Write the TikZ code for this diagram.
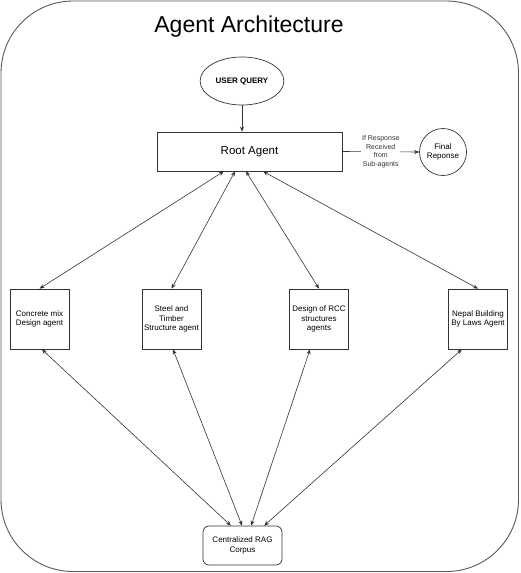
\documentclass[tikz,border=0pt]{standalone}
\usepackage{fontspec}
\setmainfont{Liberation Sans}
\usetikzlibrary{calc,arrows.meta,shapes.geometric}

\begin{document}
\begin{tikzpicture}
[x=1pt,y=-1pt,
frameline/.style={draw=black!65,line width=0.9pt,rounded corners=72pt},
agentbox/.style={draw=black!80,line width=0.7pt,minimum width=59pt,minimum height=60pt,inner sep=1pt,align=center,font=\fontsize{8}{9.7}\selectfont},
twoarrow/.style={{Stealth[length=5pt,width=4pt]}-{Stealth[length=5pt,width=4pt]},black!80,line width=0.6pt},
onearrow/.style={-{Stealth[length=5pt,width=4pt]},black!80,line width=0.6pt}]

\useasboundingbox (0,0) rectangle (520,573);

% outer frame
\draw[frameline] (1,1) rectangle (518.5,571.5);

% title
\node[anchor=base](title) at (249,32){\fontsize{23}{27}\selectfont Agent Architecture};

% user query
\node[ellipse,draw=black!80,line width=0.7pt,minimum width=78pt,minimum height=48pt,font=\bfseries\fontsize{8}{10}\selectfont](query) at (242,81){USER QUERY};

% root agent
\node[draw=black!80,line width=0.7pt,minimum width=185pt,minimum height=39pt,font=\fontsize{11.5}{14}\selectfont](root) at (249.5,151.5){Root Agent};
\draw[onearrow] (query.south) -- (root.north -| query.south);

% final response
\node[circle,draw=black!80,line width=0.7pt,minimum size=47pt,inner sep=0pt,align=center,font=\fontsize{8}{9}\selectfont](final) at (443,152){Final\\Reponse};
\draw[onearrow] (root.east) -- node[fill=white,inner sep=1pt,align=center,font=\fontsize{7}{8.7}\selectfont](cond){If Response\\Received\\from\\Sub-agents} (final.west);

% sub-agents
\node[agentbox](concrete) at (39.5,319){Concrete mix\\Design agent};
\node[agentbox](steel) at (171.5,319){Steel and\\Timber\\Structure agent};
\node[agentbox](rcc) at (319,319){Design of RCC\\structures\\agents};
\node[agentbox](nepal) at (478,319){Nepal Building\\By Laws Agent};

% root <-> sub-agents
\draw[twoarrow] (concrete.north) -- ($(root.south west)!0.362!(root.south east)$);
\draw[twoarrow] (steel.north) -- ($(root.south west)!0.422!(root.south east)$);
\draw[twoarrow] (rcc.north) -- ($(root.south west)!0.481!(root.south east)$);
\draw[twoarrow] (nepal.north) -- ($(root.south west)!0.573!(root.south east)$);

% rag corpus
\node[draw=black!80,line width=0.7pt,rounded corners=6pt,minimum width=79pt,minimum height=39pt,align=center,font=\fontsize{8}{10}\selectfont](rag) at (242.5,545.5){Centralized RAG\\Corpus};

% sub-agents <-> rag
\draw[twoarrow] ($(concrete.south west)!0.54!(concrete.south east)$) -- ($(rag.north west)!0.354!(rag.north east)$);
\draw[twoarrow] ($(steel.south west)!0.525!(steel.south east)$) -- ($(rag.north west)!0.494!(rag.north east)$);
\draw[twoarrow] ($(rcc.south west)!0.35!(rcc.south east)$) -- ($(rag.north west)!0.608!(rag.north east)$);
\draw[twoarrow] ($(nepal.south west)!0.23!(nepal.south east)$) -- ($(rag.north west)!0.772!(rag.north east)$);

\end{tikzpicture}
\end{document}
